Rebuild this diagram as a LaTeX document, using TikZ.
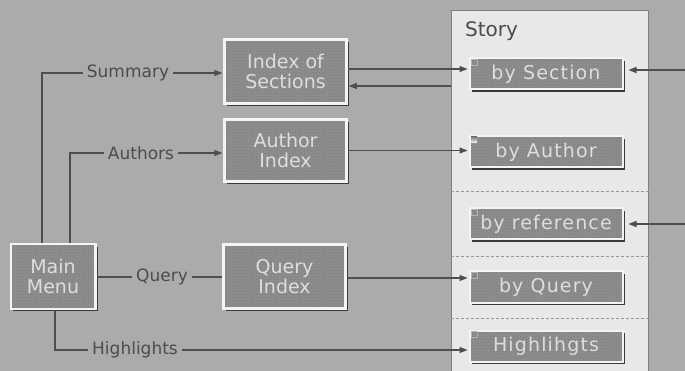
\documentclass[tikz,border=0pt]{standalone}
\usepackage{fontspec}
\setmainfont{DejaVu Sans}
\newfontfamily\btnfont[LetterSpace=6]{DejaVu Sans}
\usetikzlibrary{arrows.meta,shadows,patterns}

\definecolor{bg}{HTML}{ABABAB}
\definecolor{panel}{HTML}{E8E8E8}
\definecolor{panelline}{HTML}{7E7E7E}
\definecolor{face}{HTML}{8E8E8E}
\definecolor{grain}{HTML}{7A7A7A}
\definecolor{rim}{HTML}{F4F4F4}
\definecolor{shade}{HTML}{3A3A3A}
\definecolor{ink}{HTML}{4C4C4C}
\definecolor{wirec}{HTML}{4E4E4E}
\definecolor{caption}{HTML}{DEDEDE}
\definecolor{markc}{HTML}{B4B4B4}

\tikzset{
  box/.style={rectangle, inner sep=0pt, align=center,
    drop shadow={shadow xshift=2.5pt, shadow yshift=-2.5pt, fill=shade, opacity=1},
    preaction={fill=face},
    pattern=crosshatch dots, pattern color=grain,
    draw=rim, line width=2.5pt, text=caption,
    font=\fontsize{19}{20}\selectfont},
  menubox/.style={box, minimum width=122pt, minimum height=64pt},
  storybtn/.style={box, line width=2pt, minimum width=153pt, minimum height=31pt,
    font=\btnfont\fontsize{19}{20}\selectfont},
  lbl/.style={font=\fontsize{17}{18}\selectfont, text=ink, inner sep=4pt},
  wire/.style={draw=wirec, line width=1.1pt},
  arr/.style={wire, -{Triangle[length=8pt,width=6pt]}, shorten >=1pt},
  panelbox/.style={rectangle, fill=panel, draw=panelline, line width=0.8pt,
    minimum width=197pt, minimum height=380pt, inner sep=0pt},
  sep/.style={draw=panelline!80, line width=0.7pt, dash pattern=on 3pt off 2pt},
  cornermark/.style={draw=markc, line width=0.6pt},
}

\begin{document}
\begin{tikzpicture}[x=1pt,y=-1pt]
  \useasboundingbox[fill=bg] (0,0) rectangle (685,371);

  % story panel with its separators
  \node[panelbox, anchor=north west] (story) at (451,10) {};
  \node[anchor=base west, font=\fontsize{20}{22}\selectfont, text=ink, inner sep=0pt]
    (storytitle) at (465,37) {Story};
  \foreach \yy in {191,256,318}
    \draw[sep] (story.west |- 0,\yy) -- (story.east |- 0,\yy);

  % menu boxes
  \node[box, minimum width=84.5pt, minimum height=64.5pt] (main) at (53,276.5) {Main\\Menu};
  \node[menubox] (idx)  at (285.5,71.5)  {Index of\\Sections};
  \node[menubox, minimum height=62pt] (auth) at (285.5,150.5) {Author\\Index};
  \node[menubox] (qidx) at (284.5,276.5) {Query\\Index};

  % story buttons
  \node[storybtn] (bysec)  at (546,74)  {by Section};
  \node[storybtn] (byauth) at (546,152) {by Author};
  \node[storybtn] (byref)  at (546,224) {by reference};
  \node[storybtn] (byq)    at (546,287) {by Query};
  \node[storybtn] (byhl)   at (546,346) {Highlihgts};

  % corner marks on the story buttons
  \foreach \b in {bysec,byref,byq,byhl}
    \draw[cornermark] ([shift={(2.5pt,-1.5pt)}]\b.north west) rectangle ++(6pt,-6pt);
  \fill[shade] ([shift={(2.5pt,-1.5pt)}]byauth.north west) rectangle ++(6pt,-6pt);

  % connector labels
  \node[lbl] (sum) at (128,73)  {Summary};
  \node[lbl] (aut) at (141,153) {Authors};
  \node[lbl] (qry) at (162,277) {Query};
  \node[lbl] (hl)  at (135,350) {Highlights};

  % free ends
  \coordinate (back) at (451,86);
  \coordinate (rin1) at (685,70);
  \coordinate (rin2) at (685,224);

  % connectors from the main menu
  \draw[wire] ([xshift=-11pt]main.north) |- (sum.west);
  \draw[arr] (sum.east) -- (sum.east -| idx.west);
  \draw[wire] ([xshift=17pt]main.north) |- (aut.west);
  \draw[arr] (aut.east) -- (aut.east -| auth.west);
  \draw[wire] (qry.west -| main.east) -- (qry.west);
  \draw[wire] (qry.east) -- (qry.east -| qidx.west);
  \draw[wire] ([xshift=2pt]main.south) |- (hl.west);
  \draw[arr] (hl.east) -- (hl.east -| byhl.west);

  % connectors into the story
  \draw[arr] ([yshift=2.5pt]idx.east) -- ([yshift=2.5pt]idx.east -| bysec.west);
  \draw[arr] (back) -- (back -| idx.east);
  \draw[arr] (auth.east) -- (auth.east -| byauth.west);
  \draw[arr] ([yshift=-1.5pt]qidx.east) -- ([yshift=-1.5pt]qidx.east -| byq.west);
  \draw[arr, shorten >=5pt] (rin1) -- (rin1 -| bysec.east);
  \draw[arr, shorten >=5pt] (rin2) -- (rin2 -| byref.east);
\end{tikzpicture}
\end{document}
